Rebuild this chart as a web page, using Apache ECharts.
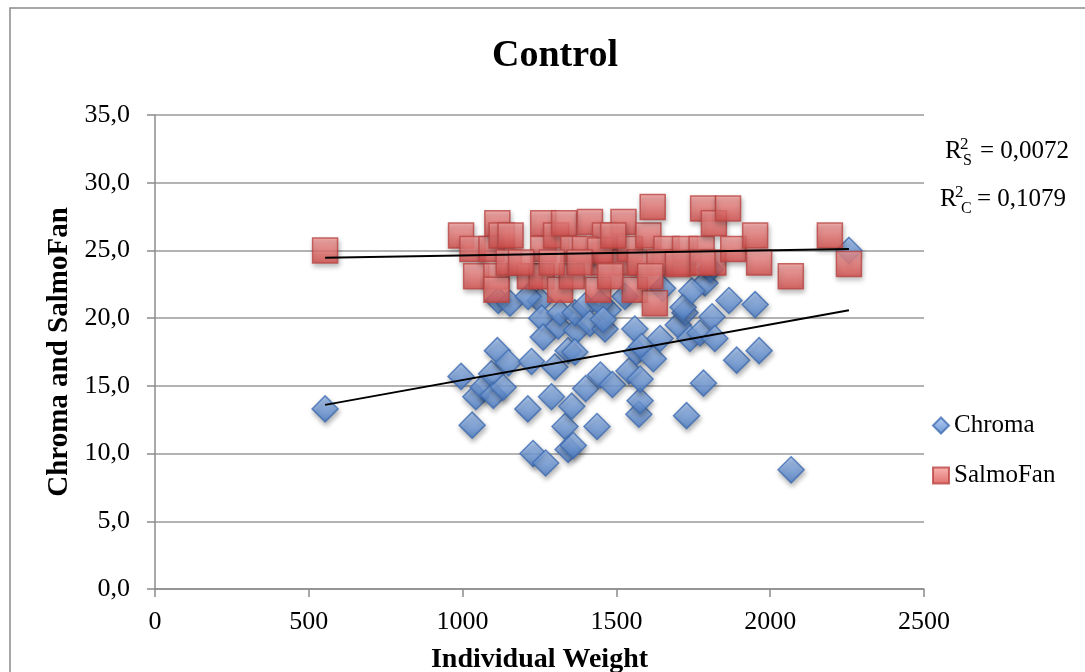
<!DOCTYPE html>
<html>
<head>
<meta charset="utf-8">
<title>Control</title>
<script src="https://cdn.jsdelivr.net/npm/echarts@6/dist/echarts.min.js"></script>
<style>
    html, body { margin: 0; padding: 0; background: #fff; }
    #main { width: 1085px; height: 672px; }
</style>
</head>
<body>
<div id="main"></div>
<script>
// individual weight (x) and chroma (y)
var chromaWeight = [553, 995, 1031, 1043, 1067, 1094, 1100, 1113, 1132, 1149, 1116, 1154, 1212, 1224, 1229,
    1252, 1257, 1262, 1270, 1289, 1300, 1311, 1317, 1333, 1343, 1360, 1343, 1355, 1371, 1365, 1365,
    1398, 1400, 1414, 1437, 1448, 1463, 1473, 1487, 1541, 1560, 1566, 1573, 1577, 1577, 1582, 1620,
    1642, 1701, 1723, 1728, 1739, 1772, 1783, 1788, 1811, 1820, 1866, 1891, 1951, 1964, 2068, 2256,
    1213, 1447, 1528, 1717, 1457, 1650, 1745, 1805];
var chromaValue = [13.3, 15.7, 12.1, 14.2, 14.9, 15.9, 14.3, 17.6, 14.9, 16.7, 21.3, 21.1, 13.3, 16.8, 10.0,
    21.3, 20.0, 18.6, 9.3, 14.2, 16.4, 19.4, 20.4, 12.0, 10.3, 10.6, 17.6, 13.5, 19.1, 20.4, 17.5,
    20.9, 14.8, 19.6, 12.0, 15.8, 19.2, 20.6, 15.1, 16.1, 19.2, 17.5, 12.9, 13.9, 15.5, 17.9, 17.0,
    18.5, 19.5, 20.4, 12.8, 18.5, 18.9, 15.2, 22.6, 20.1, 18.5, 21.3, 16.9, 21.0, 17.6, 8.8, 25.0,
    21.6, 21.1, 21.6, 20.8, 19.9, 22.2, 22.0, 23.6];
// individual weight (x) and SalmoFan score (y)
var salmoWeight = [553, 995, 1032, 1044, 1094, 1110, 1110, 1113, 1127, 1156, 1150, 1219, 1257, 1262, 1262,
    1304, 1317, 1330, 1355, 1360, 1414, 1441, 1458, 1463, 1523, 1528, 1544, 1560, 1577, 1604, 1618,
    1625, 1663, 1717, 1723, 1777, 1782, 1817, 1815, 1863, 1880, 1951, 1964, 2067, 2194, 2256,
    1398, 1447, 1490, 1380, 1190, 1290, 1640, 1700, 1480, 1610, 1780];
var salmoValue = [25.0, 26.1, 25.1, 23.1, 25.1, 23.1, 22.1, 27.0, 26.1, 26.1, 24.1, 23.1, 23.1, 27.0, 25.1,
    26.1, 22.1, 27.0, 23.1, 25.1, 27.1, 22.1, 24.1, 26.1, 27.1, 24.1, 25.1, 22.1, 24.1, 26.1, 28.2,
    21.1, 25.1, 24.1, 25.1, 25.1, 28.1, 27.0, 24.1, 28.1, 25.1, 26.1, 24.1, 23.1, 26.1, 24.0,
    25.1, 25.0, 26.1, 24.1, 24.1, 24.1, 24.1, 24.0, 23.1, 23.1, 24.1];
var xTicks = [0, 500, 1000, 1500, 2000, 2500];
var yTicks = [0, 5, 10, 15, 20, 25, 30, 35];

var serif = '"Liberation Serif", "DejaVu Serif", serif';

function pairs(xs, ys) {
    var out = [];
    for (var i = 0; i < xs.length; i++) {
        out.push([xs[i], ys[i]]);
    }
    return out;
}

// least squares line, drawn from smallest to largest x like the excel trendline
function trendLine(xs, ys) {
    var n = xs.length, sx = 0, sy = 0, sxx = 0, sxy = 0;
    for (var i = 0; i < n; i++) {
        sx += xs[i]; sy += ys[i];
        sxx += xs[i] * xs[i]; sxy += xs[i] * ys[i];
    }
    var slope = (n * sxy - sx * sy) / (n * sxx - sx * sx);
    var icpt = (sy - slope * sx) / n;
    var lo = Math.min.apply(null, xs), hi = Math.max.apply(null, xs);
    return [[lo, icpt + slope * lo], [hi, icpt + slope * hi]];
}

var blueFill = new echarts.graphic.LinearGradient(0, 0, 0, 1, [
    { offset: 0, color: '#a3c4f4' },
    { offset: 1, color: '#4a7cc6' }
]);
var redFill = new echarts.graphic.LinearGradient(0, 0, 0, 1, [
    { offset: 0, color: '#f9a3a1' },
    { offset: 1, color: '#d64c49' }
]);

function subText(x, y, t, size) {
    return { type: 'text', left: x, top: y, style: { text: t, font: size + 'px ' + serif, fill: '#000' } };
}

var option = {
    backgroundColor: '#fff',
    animation: false,
    title: {
        text: 'Control',
        left: 550,
        top: 32,
        textAlign: 'center',
        textStyle: { fontFamily: serif, fontWeight: 'bold', fontSize: 38, color: '#000' }
    },
    legend: {
        orient: 'vertical',
        left: 927,
        top: 408,
        itemWidth: 16,
        itemHeight: 16,
        itemGap: 25,
        textStyle: { fontFamily: serif, fontSize: 25, color: '#000' },
        data: [{ name: 'Chroma', icon: 'diamond' }, { name: 'SalmoFan', icon: 'rect' }]
    },
    grid: { left: 155, right: 161, top: 115, bottom: 83, outerBoundsMode: 'none', containLabel: false },
    xAxis: {
        type: 'value',
        min: xTicks[0],
        max: xTicks[xTicks.length - 1],
        interval: 500,
        name: 'Individual Weight',
        nameLocation: 'middle',
        nameGap: 57,
        nameTextStyle: { fontFamily: serif, fontWeight: 'bold', fontSize: 28, color: '#000' },
        axisLine: { lineStyle: { color: '#8c8c8c', width: 1.5 } },
        axisTick: { show: true, length: 8, lineStyle: { color: '#8c8c8c', width: 1.5 } },
        axisLabel: {
            fontFamily: serif, fontSize: 26, color: '#000', margin: 20,
            formatter: function (v) { return String(v); }
        },
        splitLine: { show: false }
    },
    yAxis: {
        type: 'value',
        min: yTicks[0],
        max: yTicks[yTicks.length - 1],
        interval: 5,
        name: 'Chroma and SalmoFan',
        nameLocation: 'middle',
        nameGap: 77,
        nameTextStyle: { fontFamily: serif, fontWeight: 'bold', fontSize: 29, color: '#000' },
        axisLine: { show: true, lineStyle: { color: '#8c8c8c', width: 1.5 } },
        axisTick: { show: true, length: 8, lineStyle: { color: '#8c8c8c', width: 1.5 } },
        axisLabel: {
            fontFamily: serif, fontSize: 26, color: '#000', margin: 25,
            formatter: function (v) { return v.toFixed(1).replace('.', ','); }
        },
        splitLine: { lineStyle: { color: '#9a9a9a', width: 1.5 } }
    },
    graphic: [
        { type: 'rect', shape: { x: 10, y: 8, width: 1100, height: 700 }, style: { fill: 'none', stroke: '#8a8a8a', lineWidth: 1.5 }, silent: true },
        subText(945, 139, 'R', 25), subText(960, 136, '2', 17), subText(963, 153, 'S', 16), subText(980, 139, '= 0,0072', 25),
        subText(940, 187, 'R', 25), subText(955, 184, '2', 17), subText(961, 201, 'C', 16), subText(977, 187, '= 0,1079', 25)
    ],
    series: [
        {
            name: 'Chroma',
            type: 'scatter',
            symbol: 'diamond',
            symbolSize: 26,
            itemStyle: {
                color: blueFill, borderColor: '#3e6db3', borderWidth: 1.5,
                shadowColor: 'rgba(0,0,0,0.35)', shadowBlur: 5, shadowOffsetX: 1, shadowOffsetY: 3
            },
            data: pairs(chromaWeight, chromaValue)
        },
        {
            name: 'SalmoFan',
            type: 'scatter',
            symbol: 'rect',
            symbolSize: 25,
            itemStyle: {
                color: redFill, borderColor: '#b94542', borderWidth: 1.5,
                shadowColor: 'rgba(0,0,0,0.35)', shadowBlur: 5, shadowOffsetX: 1, shadowOffsetY: 3
            },
            data: pairs(salmoWeight, salmoValue)
        },
        {
            name: 'trendChroma',
            type: 'line',
            symbol: 'none',
            z: 5,
            lineStyle: { color: '#000', width: 2 },
            data: trendLine(chromaWeight, chromaValue)
        },
        {
            name: 'trendSalmo',
            type: 'line',
            symbol: 'none',
            z: 5,
            lineStyle: { color: '#000', width: 2 },
            data: trendLine(salmoWeight, salmoValue)
        }
    ]
};

var myChart = echarts.init(document.getElementById('main'), null, { renderer: 'canvas' });
myChart.setOption(option);
</script>
</body>
</html>
